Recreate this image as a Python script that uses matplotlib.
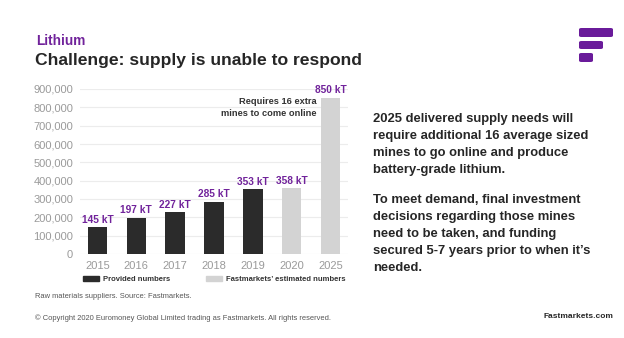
import matplotlib
matplotlib.use("Agg")
import matplotlib.pyplot as plt
from matplotlib.patches import FancyBboxPatch, Patch
from matplotlib.ticker import FuncFormatter

plt.rcParams['font.family'] = ['Liberation Sans', 'DejaVu Sans']

years = ['2015', '2016', '2017', '2018', '2019', '2020', '2025']
supply = [145000, 197000, 227000, 285000, 353000, 358000, 850000]
provided = [True, True, True, True, True, False, False]
bar_labels = ['145 kT', '197 kT', '227 kT', '285 kT', '353 kT', '358 kT', '850 kT']

body_1 = ["2025 delivered supply needs will",
          "require additional 16 average sized",
          "mines to go online and produce",
          "battery-grade lithium."]
body_2 = ["To meet demand, final investment",
          "decisions regarding those mines",
          "need to be taken, and funding",
          "secured 5-7 years prior to when it\u2019s",
          "needed."]

PURPLE = '#71239b'
DARK = '#2b2b2b'
LIGHT = '#d3d3d3'

W, H = 624, 338
fig = plt.figure(figsize=(W / 100, H / 100), dpi=100)
fig.patch.set_facecolor('white')

def px(x, y):
    return x / W, 1 - y / H

# header
fig.text(*px(36, 41), "Lithium", color=PURPLE, fontsize=9.8, fontweight='bold', va='center')
fig.text(*px(35, 60), "Challenge: supply is unable to respond", color='#262626',
         fontsize=12.6, fontweight='bold', va='center')

# logo bars
for x0, x1, y0, y1 in [(579, 613, 28, 37), (579, 603, 41, 49), (579, 593, 53, 62)]:
    fx, fy = px(x0, y1)
    logo = FancyBboxPatch((fx, fy), (x1 - x0) / W, (y1 - y0) / H,
                          boxstyle="round,pad=0,rounding_size=0.004",
                          transform=fig.transFigure, facecolor='#6a1b9a', edgecolor='none')
    fig.patches.append(logo)

# chart
ax = fig.add_axes([80 / W, 1 - 254 / H, 268 / W, 165 / H])
colors = [DARK if p else LIGHT for p in provided]
bars = ax.bar(years, supply, width=0.5, color=colors, zorder=2)
ax.set_ylim(0, 900000)
ax.set_xlim(-0.45, 6.45)
ax.set_yticks(range(0, 900001, 100000))
ax.yaxis.set_major_formatter(FuncFormatter(lambda v, _: f"{int(v):,}"))
ax.grid(axis='y', color='#ececec', linewidth=0.8, zorder=0)
for s in ax.spines.values():
    s.set_visible(False)
ax.tick_params(length=0, labelsize=8, labelcolor='#9a9a9a')
ax.tick_params(axis='y', pad=5)
ax.tick_params(axis='x', pad=5)

for b, lab in zip(bars, bar_labels):
    ax.annotate(lab, (b.get_x() + b.get_width() / 2, b.get_height()),
                xytext=(0, 2), textcoords='offset points', ha='center', va='bottom',
                color=PURPLE, fontsize=7.3, fontweight='bold')

ax.text(5.65, 855000, "Requires 16 extra\nmines to come online", ha='right', va='top',
        fontsize=6.7, fontweight='bold', color='#333333', linespacing=1.35)

handles = [Patch(color=DARK, label='Provided numbers'),
           Patch(color=LIGHT, label='Fastmarkets\u2019 estimated numbers')]
leg = ax.legend(handles=handles, loc='center', bbox_to_anchor=(0.5, -0.155), ncol=2,
                frameon=False, fontsize=5.5, handlelength=2.1, handleheight=0.65,
                columnspacing=4.7, handletextpad=0.5)
for t in leg.get_texts():
    t.set_fontweight('bold')
    t.set_color('#333333')

# right-hand text
y = 119
for line in body_1:
    fig.text(*px(373, y), line, fontsize=9.4, fontweight='bold', color='#262626', va='center')
    y += 17
y = 200
for line in body_2:
    fig.text(*px(373, y), line, fontsize=9.4, fontweight='bold', color='#262626', va='center')
    y += 17

# footer
fig.text(*px(35, 297), "Raw materials suppliers. Source: Fastmarkets.", fontsize=5.4,
         color='#555555', va='center')
fig.text(*px(35, 318), "\u00a9 Copyright 2020 Euromoney Global Limited trading as Fastmarkets. All rights reserved.",
         fontsize=5.4, color='#555555', va='center')
fig.text(*px(613, 317), "Fastmarkets.com", fontsize=6, fontweight='bold',
         color='#262626', va='center', ha='right')

fig.savefig('out.png', dpi=100)
